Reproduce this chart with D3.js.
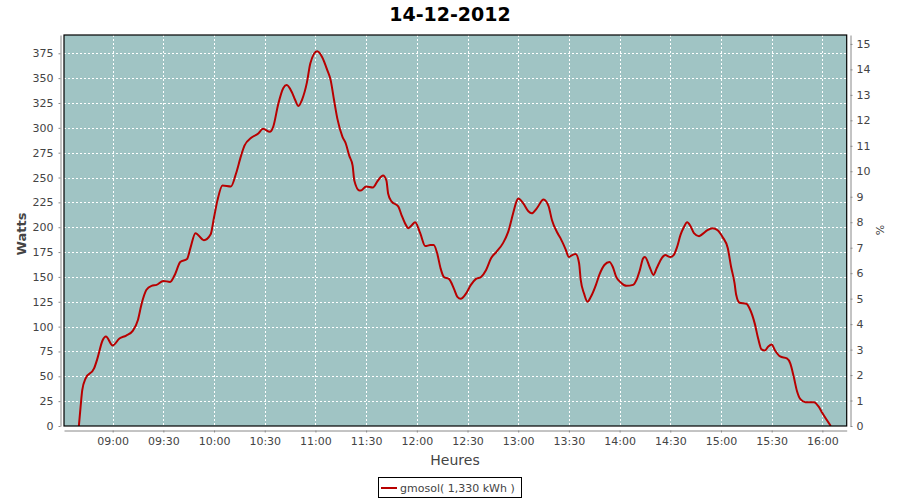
<!DOCTYPE html>
<html><head><meta charset="utf-8">
<script src="https://cdn.jsdelivr.net/npm/d3@7"></script>
<style>body{margin:0;background:#fff;} text{font-family:"DejaVu Sans",sans-serif;}</style>
</head><body><svg id="c" width="900" height="500"></svg>
<script>
const title = "14-12-2012";
const legendLabel = "gmosol( 1,330 kWh )";
const xAxisTitle = "Heures";
const yAxisTitle = "Watts";
const y2AxisTitle = "%";
const times = ["08:40","08:41","08:42","08:44","08:49","08:51","08:54","08:56","09:00","09:04","09:08","09:12","09:15","09:17","09:20","09:23","09:26","09:30","09:34","09:37","09:40","09:44","09:46","09:49","09:54","09:58","10:00","10:02","10:05","10:10","10:13","10:16","10:18","10:22","10:26","10:29","10:33","10:35","10:38","10:41","10:43","10:46","10:48","10:50","10:52","10:55","10:57","11:01","11:04","11:07","11:09","11:11","11:13","11:16","11:18","11:20","11:22","11:23","11:26","11:27","11:30","11:34","11:37","11:40","11:42","11:43","11:45","11:49","11:51","11:53","11:55","11:57","11:59","12:02","12:05","12:08","12:10","12:12","12:14","12:16","12:19","12:22","12:24","12:26","12:29","12:32","12:35","12:38","12:41","12:44","12:47","12:51","12:54","12:57","12:59","13:00","13:03","13:06","13:08","13:11","13:15","13:18","13:20","13:23","13:25","13:28","13:30","13:31","13:34","13:36","13:37","13:39","13:41","13:43","13:46","13:48","13:51","13:54","13:56","13:58","14:01","14:04","14:08","14:10","14:12","14:14","14:15","14:18","14:20","14:22","14:25","14:27","14:30","14:32","14:34","14:36","14:38","14:40","14:42","14:44","14:47","14:49","14:52","14:55","14:58","15:01","15:04","15:06","15:08","15:09","15:11","15:15","15:17","15:20","15:22","15:24","15:26","15:28","15:30","15:32","15:35","15:39","15:41","15:43","15:45","15:47","15:50","15:55","15:58","16:00","16:05"];
const watts = [0,19,36,48,58,68,86,90,81,88,91,96,107,122,137,141,142,146,145,153,165,168,179,194,187,193,210,227,242,241,254,272,282,290,294,299,296,301,324,340,343,336,328,322,328,346,365,377,371,358,348,328,309,291,284,272,262,247,237,237,241,240,247,252,247,234,226,221,212,204,199,202,205,194,181,182,182,174,159,150,148,138,130,128,133,142,148,150,157,169,175,184,195,214,226,229,224,216,214,219,228,221,207,195,189,178,170,171,173,164,147,133,125,130,142,152,162,165,160,150,144,141,142,147,157,169,170,159,152,159,169,172,170,172,180,192,200,205,201,194,191,193,197,199,197,190,179,160,144,132,124,123,118,103,88,77,76,80,82,76,70,68,63,50,35,27,24,24,19,13,0];
const xTickLabels = ["09:00","09:30","10:00","10:30","11:00","11:30","12:00","12:30","13:00","13:30","14:00","14:30","15:00","15:30","16:00"];
const yTickValues = [0,25,50,75,100,125,150,175,200,225,250,275,300,325,350,375];
const pctTickValues = [0,1,2,3,4,5,6,7,8,9,10,11,12,13,14,15];

const parse = d3.timeParse("%H:%M");
const data = times.map((t,i)=>({t:parse(t), v:watts[i]}));
const xTicks = xTickLabels.map(parse);

const L=64, R=846.7, T=35, B=426;
const svg = d3.select("#c");
const x = d3.scaleTime().domain([new Date(1900,0,1,8,31,12), new Date(1900,0,1,16,14,24)]).range([L,R]);
const y = d3.scaleLinear().domain([0,393.4]).range([B,T]);
const y2 = d3.scaleLinear().domain([0,15.35]).range([B,T]);

// title
svg.append("text").attr("x",450).attr("y",21).attr("text-anchor","middle")
  .style("font-size","19px").style("font-weight","bold").attr("fill","#000").text(title);

// plot background
svg.append("rect").attr("x",L).attr("y",T).attr("width",R-L).attr("height",B-T).attr("fill","#a0c4c4");

// grid
const g = svg.append("g");
g.selectAll("line.v").data(xTicks).join("line")
  .attr("x1",d=>Math.round(x(d))+0.5).attr("x2",d=>Math.round(x(d))+0.5).attr("y1",T).attr("y2",B)
  .attr("stroke","#fff").attr("stroke-dasharray","2,2").attr("stroke-width",1);
g.selectAll("line.h").data(yTickValues.filter(d=>d>0)).join("line")
  .attr("y1",d=>Math.round(y(d))+0.5).attr("y2",d=>Math.round(y(d))+0.5).attr("x1",L).attr("x2",R)
  .attr("stroke","#fff").attr("stroke-dasharray","2,2").attr("stroke-width",1);

// line
svg.append("clipPath").attr("id","clip").append("rect").attr("x",L).attr("y",T).attr("width",R-L).attr("height",B-T);
const line = d3.line().x(d=>x(d.t)).y(d=>y(d.v)).curve(d3.curveMonotoneX);
svg.append("path").datum(data).attr("d",line).attr("fill","none").attr("stroke","#b80000")
  .attr("stroke-width",2).attr("clip-path","url(#clip)");

// border
svg.append("rect").attr("x",L).attr("y",T).attr("width",R-L).attr("height",B-T)
  .attr("fill","none").attr("stroke","#000").attr("stroke-width",1.2);

function styleAxis(sel){
  sel.select(".domain").attr("stroke","#888");
  sel.selectAll(".tick line").attr("stroke","#888");
  sel.selectAll(".tick text").attr("fill","#444").style("font-size","11px").style("font-family","DejaVu Sans");
}
// left axis
const ax = svg.append("g").attr("transform","translate(60.5,0)")
  .call(d3.axisLeft(y).tickValues(yTickValues).tickSizeInner(2).tickSizeOuter(0).tickPadding(5));
styleAxis(ax);
// right axis
const ax2 = svg.append("g").attr("transform","translate(850.5,0)")
  .call(d3.axisRight(y2).tickValues(pctTickValues).tickSizeInner(2).tickSizeOuter(0).tickPadding(4));
styleAxis(ax2);
// bottom axis
const axb = svg.append("g").attr("transform","translate(0,430.5)")
  .call(d3.axisBottom(x).tickValues(xTicks).tickFormat(d3.timeFormat("%H:%M")).tickSizeInner(2).tickSizeOuter(0).tickPadding(5));
styleAxis(axb);

// axis titles
svg.append("text").attr("transform","translate(26,234) rotate(-90)").attr("text-anchor","middle")
  .style("font-size","13px").style("font-weight","bold").attr("fill","#444").text(yAxisTitle);
svg.append("text").attr("x",455).attr("y",465).attr("text-anchor","middle")
  .style("font-size","14px").attr("fill","#444").text(xAxisTitle);
svg.append("text").attr("transform","translate(884,230) rotate(-90)").attr("text-anchor","middle")
  .style("font-size","11px").attr("fill","#444").text(y2AxisTitle);

// legend
svg.append("rect").attr("x",378.5).attr("y",477.5).attr("width",143).attr("height",20)
  .attr("fill","#fff").attr("stroke","#000").attr("stroke-width",1);
svg.append("line").attr("x1",381).attr("x2",397).attr("y1",488).attr("y2",488).attr("stroke","#b80000").attr("stroke-width",2);
svg.append("text").attr("x",400).attr("y",492).style("font-size","11px").attr("fill","#444").text(legendLabel);
</script>
</body></html>
